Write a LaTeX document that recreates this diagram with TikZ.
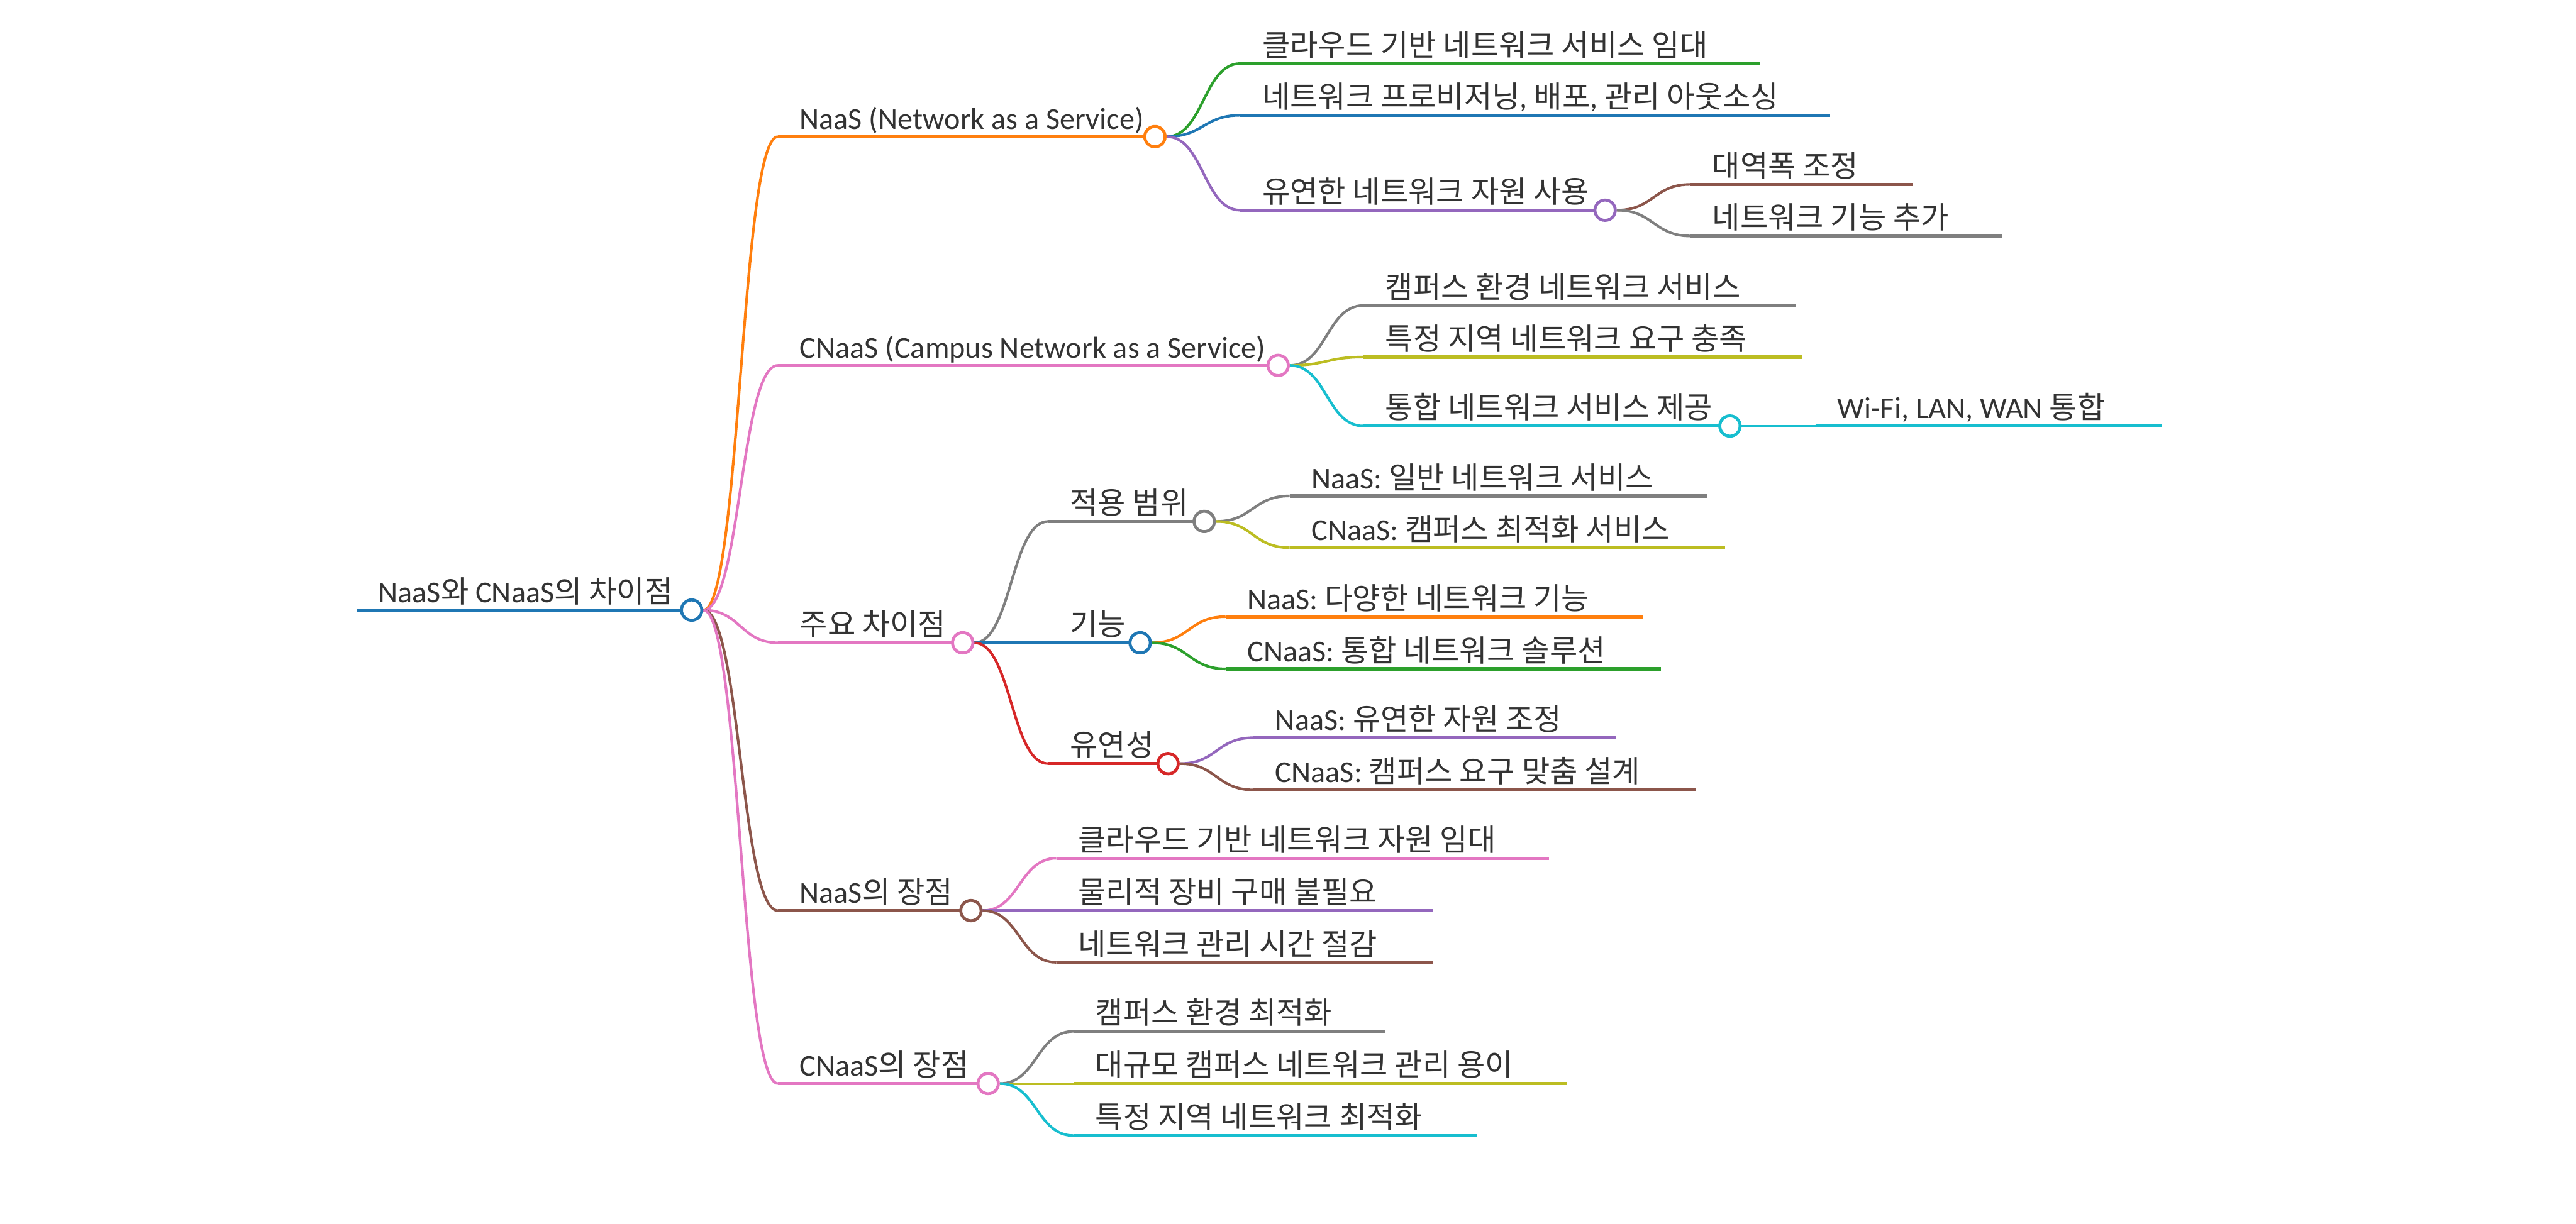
\documentclass[tikz,border=0pt]{standalone}
\usepackage{fontspec}
\setmainfont{Noto Sans CJK KR}
\newfontfamily\latfont{Carlito}
\newcommand{\lt}[1]{{\latfont #1}}
\usetikzlibrary{calc}
\pgfdeclarelayer{bg}
\pgfsetlayers{bg,main}
\definecolor{mmblue}{HTML}{1F77B4}
\definecolor{mmorange}{HTML}{FF7F0E}
\definecolor{mmgreen}{HTML}{2CA02C}
\definecolor{mmred}{HTML}{D62728}
\definecolor{mmpurple}{HTML}{9467BD}
\definecolor{mmbrown}{HTML}{8C564B}
\definecolor{mmpink}{HTML}{E377C2}
\definecolor{mmgray}{HTML}{7F7F7F}
\definecolor{mmolive}{HTML}{BCBD22}
\definecolor{mmcyan}{HTML}{17BECF}
\definecolor{mmtext}{HTML}{333333}
\tikzset{
  lbl/.style={anchor=base west, inner sep=0pt, text=mmtext, font=\fontsize{12.2}{14}\selectfont},
  hline/.style={line width=1.35pt},
  curve/.style={line width=1.05pt},
  dot/.style={circle, fill=white, line width=1.2pt, minimum size=8.2pt, inner sep=0pt}
}
\newcommand{\mmleaf}[6]{%
  \coordinate (#1-s) at (#3,#5);
  \coordinate (#1-e) at (#4,#5);
  \node[lbl] (#1) at ($(#1-s)+(13,-4.5)$) {#6};
  \begin{pgfonlayer}{bg}\draw[hline,#2] (#1-s) -- (#1-e);\end{pgfonlayer}
}
\newcommand{\mmbranch}[6]{%
  \coordinate (#1-s) at (#3,#5);
  \node[dot,draw=#2] (#1-c) at (#4,#5) {};
  \node[lbl] (#1) at ($(#1-s)+(13,-4.5)$) {#6};
  \begin{pgfonlayer}{bg}\draw[hline,#2] (#1-s) -- (#1-c.center);\end{pgfonlayer}
}
\newcommand{\mmlink}[3]{%
  \begin{pgfonlayer}{bg}
  \draw[curve,#3] let \p1=(#1-c.east), \p2=(#2-s) in
    (\p1) .. controls ({0.5*\x1+0.5*\x2},\y1) and ({0.5*\x1+0.5*\x2},\y2) .. (\p2);
  \end{pgfonlayer}}
\begin{document}
\begin{tikzpicture}[x=0.6612pt,y=-0.6612pt]
\begin{pgfonlayer}{bg}
\fill[white] (0,0) rectangle (1568,745);
\end{pgfonlayer}
\useasboundingbox (0,0) rectangle (1568,745);
% root
\mmbranch{root}{mmblue}{217}{421}{371.5}{\lt{NaaS}와 \lt{CNaaS}의 차이점}
% level 1
\mmbranch{naas}{mmorange}{473.5}{703}{83.2}{\lt{NaaS (Network as a Service)}}
\mmbranch{cnaas}{mmpink}{473.5}{778}{222.5}{\lt{CNaaS (Campus Network as a Service)}}
\mmbranch{diff}{mmpink}{473.5}{586}{391.4}{주요 차이점}
\mmbranch{nadv}{mmbrown}{473.5}{591}{554.5}{\lt{NaaS}의 장점}
\mmbranch{cadv}{mmpink}{473.5}{601.5}{659.8}{\lt{CNaaS}의 장점}
\mmlink{root}{naas}{mmorange}
\mmlink{root}{cnaas}{mmpink}
\mmlink{root}{diff}{mmpink}
\mmlink{root}{nadv}{mmbrown}
\mmlink{root}{cadv}{mmpink}
% NaaS
\mmleaf{n1}{mmgreen}{755}{1071}{38.7}{클라우드 기반 네트워크 서비스 임대}
\mmleaf{n2}{mmblue}{755}{1114}{70.2}{네트워크 프로비저닝\lt{,} 배포\lt{,} 관리 아웃소싱}
\mmbranch{n3}{mmpurple}{755}{977}{128}{유연한 네트워크 자원 사용}
\mmlink{naas}{n1}{mmgreen}
\mmlink{naas}{n2}{mmblue}
\mmlink{naas}{n3}{mmpurple}
\mmleaf{n31}{mmbrown}{1029}{1164.5}{112.3}{대역폭 조정}
\mmleaf{n32}{mmgray}{1029}{1219}{143.7}{네트워크 기능 추가}
\mmlink{n3}{n31}{mmbrown}
\mmlink{n3}{n32}{mmgray}
% CNaaS
\mmleaf{c1}{mmgray}{830}{1093}{186}{캠퍼스 환경 네트워크 서비스}
\mmleaf{c2}{mmolive}{830}{1097}{217.4}{특정 지역 네트워크 요구 충족}
\mmbranch{c3}{mmcyan}{830}{1053}{259.4}{통합 네트워크 서비스 제공}
\mmlink{cnaas}{c1}{mmgray}
\mmlink{cnaas}{c2}{mmolive}
\mmlink{cnaas}{c3}{mmcyan}
\mmleaf{c31}{mmcyan}{1105}{1316}{259.4}{\lt{Wi-Fi, LAN, WAN} 통합}
\mmlink{c3}{c31}{mmcyan}
% main differences
\mmbranch{d1}{mmgray}{638}{733}{317.5}{적용 범위}
\mmbranch{d2}{mmblue}{638}{694}{391.4}{기능}
\mmbranch{d3}{mmred}{638}{711}{465}{유연성}
\mmlink{diff}{d1}{mmgray}
\mmlink{diff}{d2}{mmblue}
\mmlink{diff}{d3}{mmred}
\mmleaf{d11}{mmgray}{785}{1039}{302}{\lt{NaaS:} 일반 네트워크 서비스}
\mmleaf{d12}{mmolive}{785}{1050}{333.5}{\lt{CNaaS:} 캠퍼스 최적화 서비스}
\mmlink{d1}{d11}{mmgray}
\mmlink{d1}{d12}{mmolive}
\mmleaf{d21}{mmorange}{746}{1000}{375.5}{\lt{NaaS:} 다양한 네트워크 기능}
\mmleaf{d22}{mmgreen}{746}{1011}{407.3}{\lt{CNaaS:} 통합 네트워크 솔루션}
\mmlink{d2}{d21}{mmorange}
\mmlink{d2}{d22}{mmgreen}
\mmleaf{d31}{mmpurple}{763}{983.5}{449.2}{\lt{NaaS:} 유연한 자원 조정}
\mmleaf{d32}{mmbrown}{763}{1032.6}{481}{\lt{CNaaS:} 캠퍼스 요구 맞춤 설계}
\mmlink{d3}{d31}{mmpurple}
\mmlink{d3}{d32}{mmbrown}
% NaaS advantages
\mmleaf{a1}{mmpink}{643}{943}{522.6}{클라우드 기반 네트워크 자원 임대}
\mmleaf{a2}{mmpurple}{643}{872.6}{554.5}{물리적 장비 구매 불필요}
\mmleaf{a3}{mmbrown}{643}{872.6}{586}{네트워크 관리 시간 절감}
\mmlink{nadv}{a1}{mmpink}
\mmlink{nadv}{a2}{mmpurple}
\mmlink{nadv}{a3}{mmbrown}
% CNaaS advantages
\mmleaf{b1}{mmgray}{653.5}{843.5}{628}{캠퍼스 환경 최적화}
\mmleaf{b2}{mmolive}{653.5}{954}{659.8}{대규모 캠퍼스 네트워크 관리 용이}
\mmleaf{b3}{mmcyan}{653.5}{899}{691.5}{특정 지역 네트워크 최적화}
\mmlink{cadv}{b1}{mmgray}
\mmlink{cadv}{b2}{mmolive}
\mmlink{cadv}{b3}{mmcyan}
\end{tikzpicture}
\end{document}
